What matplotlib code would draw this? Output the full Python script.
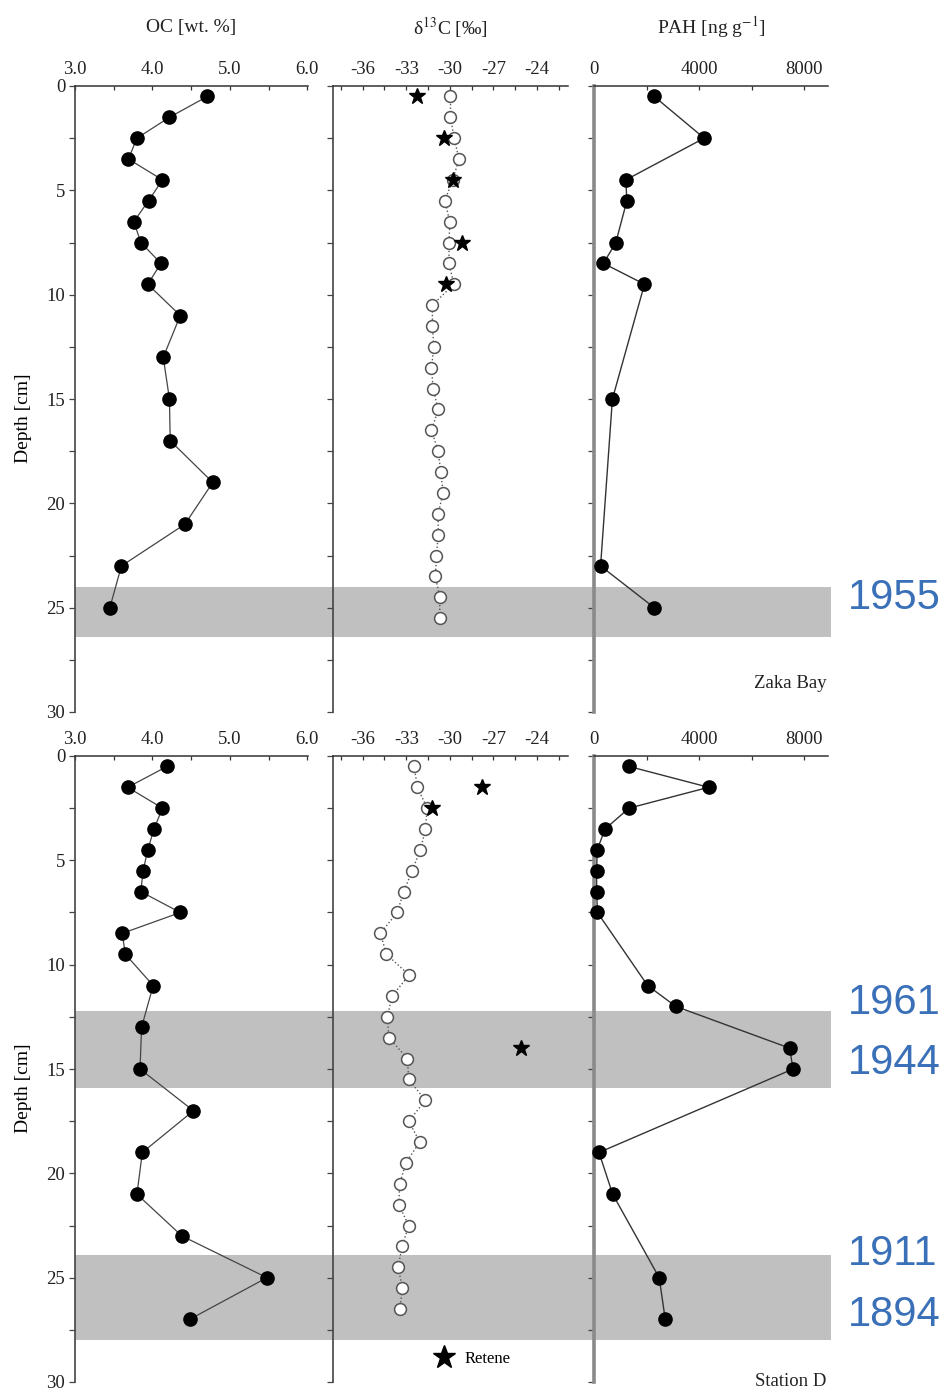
import matplotlib
matplotlib.use("Agg")
import matplotlib.pyplot as plt
from matplotlib.lines import Line2D
from matplotlib.ticker import MultipleLocator, FixedLocator

plt.rcParams['font.family'] = ['Liberation Serif', 'DejaVu Serif']
plt.rcParams['mathtext.fontset'] = 'stix'

# ---------------- data ----------------
zaka_oc_depth = [0.5, 1.5, 2.5, 3.5, 4.5, 5.5, 6.5, 7.5, 8.5, 9.5, 11, 13, 15, 17, 19, 21, 23, 25]
zaka_oc = [4.71, 4.22, 3.80, 3.69, 4.13, 3.95, 3.76, 3.85, 4.11, 3.94, 4.36, 4.14, 4.22, 4.23, 4.78, 4.42, 3.60, 3.45]

zaka_d13c_depth = [0.5, 1.5, 2.5, 3.5, 4.5, 5.5, 6.5, 7.5, 8.5, 9.5, 10.5, 11.5, 12.5, 13.5, 14.5,
                   15.5, 16.5, 17.5, 18.5, 19.5, 20.5, 21.5, 22.5, 23.5, 24.5, 25.5]
zaka_d13c = [-29.95, -29.95, -29.7, -29.36, -29.8, -30.34, -30.0, -30.05, -30.05, -29.72,
             -31.2, -31.2, -31.1, -31.26, -31.15, -30.8, -31.26, -30.8, -30.62, -30.46,
             -30.8, -30.8, -30.92, -30.99, -30.69, -30.69]
zaka_retene_depth = [0.5, 2.5, 4.5, 7.5, 9.5]
zaka_retene = [-32.23, -30.4, -29.77, -29.15, -30.23]

zaka_pah_depth = [0.5, 2.5, 4.5, 5.5, 7.5, 8.5, 9.5, 15, 23, 25]
zaka_pah = [2290, 4190, 1210, 1250, 830, 360, 1920, 700, 250, 2290]

stD_oc_depth = [0.5, 1.5, 2.5, 3.5, 4.5, 5.5, 6.5, 7.5, 8.5, 9.5, 11, 13, 15, 17, 19, 21, 23, 25, 27]
stD_oc = [4.19, 3.68, 4.13, 4.02, 3.94, 3.88, 3.85, 4.36, 3.61, 3.65, 4.01, 3.86, 3.84, 4.53, 3.87, 3.80, 4.38, 5.48, 4.48]

stD_d13c_depth = [0.5, 1.5, 2.5, 3.5, 4.5, 5.5, 6.5, 7.5, 8.5, 9.5, 10.5, 11.5, 12.5, 13.5, 14.5,
                  15.5, 16.5, 17.5, 18.5, 19.5, 20.5, 21.5, 22.5, 23.5, 24.5, 25.5, 26.5]
stD_d13c = [-32.46, -32.23, -31.56, -31.68, -32.02, -32.6, -33.17, -33.63, -34.78, -34.37,
            -32.8, -33.98, -34.3, -34.2, -32.92, -32.83, -31.68, -32.83, -32.07, -33.03,
            -33.45, -33.52, -32.83, -33.29, -33.56, -33.26, -33.45]
stD_retene_depth = [1.5, 2.5, 14]
stD_retene = [-27.77, -31.22, -25.12]

stD_pah_depth = [0.5, 1.5, 2.5, 3.5, 4.5, 5.5, 6.5, 7.5, 11, 12, 14, 15, 19, 21, 25, 27]
stD_pah = [1330, 4360, 1330, 420, 120, 100, 100, 130, 2040, 3110, 7440, 7570, 190, 710, 2480, 2710]

zaka_bands = [(24.0, 26.4)]
stD_bands = [(12.2, 15.9), (23.9, 28.0)]

year_labels = ["1955", "1961", "1944", "1911", "1894"]
year_label_y = [598, 1003, 1063, 1254, 1315]

col_titles = ["OC [wt. %]", r"δ$^{13}$C [‰]", r"PAH [ng g$^{\mathrm{-1}}$]"]
oc_ticks = [3.0, 4.0, 5.0, 6.0]
d13c_ticks = [-36, -33, -30, -27, -24]
pah_ticks = [0, 4000, 8000]

# ---------------- layout ----------------
W, H = 945, 1394
fig = plt.figure(figsize=(W / 100, H / 100), dpi=100)

def fx(px):
    return px / W

def fy(py):
    return 1 - py / H

panel_x = [(75, 308), (333, 568), (594, 828)]
row_y = [(86, 712), (756, 1382)]
band_color = '#c0c0c0'
FS = 13.5

def make_row(r, oc_d, oc, dc_d, dc, ret_d, ret, pah_d, pah, bands, station, title=False):
    top, bot = row_y[r]
    # background axis for bands spanning the whole row
    bg = fig.add_axes([fx(75), fy(bot), fx(831 - 75), (bot - top) / H], zorder=0)
    bg.set_ylim(30, 0)
    bg.set_xlim(0, 1)
    for b0, b1 in bands:
        bg.axhspan(b0, b1, color=band_color, lw=0)
    bg.axis('off')

    axes = []
    for i, (x0, x1) in enumerate(panel_x):
        ax = fig.add_axes([fx(x0), fy(bot), fx(x1 - x0), (bot - top) / H], zorder=2)
        ax.set_facecolor('none')
        ax.set_ylim(30, 0)
        for s in ['right', 'bottom']:
            ax.spines[s].set_visible(False)
        ax.spines['top'].set_color('#333333')
        ax.spines['top'].set_linewidth(1.1)
        ax.spines['left'].set_color('#444444')
        ax.spines['left'].set_linewidth(1.2)
        ax.xaxis.tick_top()
        ax.xaxis.set_label_position('top')
        ax.tick_params(axis='x', which='both', direction='in', length=3, width=0.9,
                       colors='#333333', labelsize=FS, pad=6, labelcolor='#222222')
        ax.tick_params(axis='y', which='both', direction='out', length=4, width=0.9,
                       colors='#444444', labelsize=FS, pad=3, labelcolor='#222222')
        ax.yaxis.set_major_locator(MultipleLocator(5))
        ax.yaxis.set_minor_locator(MultipleLocator(2.5))
        if i > 0:
            ax.tick_params(axis='y', which='both', labelleft=False)
        axes.append(ax)

    a1, a2, a3 = axes
    # OC
    a1.set_xlim(3.0, 6.01)
    a1.xaxis.set_major_locator(FixedLocator(oc_ticks))
    a1.xaxis.set_minor_locator(MultipleLocator(0.5))
    a1.set_xticklabels([f"{t:.1f}" for t in oc_ticks])
    a1.plot(oc, oc_d, '-', color='#444444', lw=0.9, marker='o', ms=9.5,
            mfc='black', mec='black', zorder=3, clip_on=False)
    a1.set_ylabel("Depth [cm]", fontsize=FS + 0.5)
    a1.yaxis.set_label_coords(-0.185, 0.47)

    # d13C
    a2.set_xlim(-38.05, -21.85)
    a2.xaxis.set_major_locator(FixedLocator(d13c_ticks))
    a2.xaxis.set_minor_locator(FixedLocator([-37.5, -34.5, -31.5, -28.5, -25.5, -22.5]))
    a2.set_xticklabels([str(t) for t in d13c_ticks])
    a2.plot(dc, dc_d, ':', color='#555555', lw=1.0, marker='o', ms=8.5,
            mfc='white', mec='#555555', mew=1.1, zorder=3)
    a2.plot(ret, ret_d, ls='none', marker='*', ms=12, color='black', zorder=4)

    # PAH
    a3.set_xlim(0, 8900)
    a3.xaxis.set_major_locator(FixedLocator(pah_ticks))
    a3.xaxis.set_minor_locator(FixedLocator([2000, 6000]))
    a3.set_xticklabels([str(t) for t in pah_ticks])
    a3.spines['left'].set_color('#8a8a8a')
    a3.spines['left'].set_linewidth(2.6)
    a3.plot(pah, pah_d, '-', color='#333333', lw=1.0, marker='o', ms=9.5,
            mfc='black', mec='black', zorder=3, clip_on=False)
    a3.text(0.995, 0.0 if r == 1 else 0.046, station, transform=a3.transAxes,
            ha='right', va='center', fontsize=FS, color='#222222')

    if title:
        for ax, t in zip(axes, col_titles):
            ax.text(0.5, 1.094, t, transform=ax.transAxes, ha='center', va='center',
                    fontsize=FS + 0.5, color='#222222')
    return axes

make_row(0, zaka_oc_depth, zaka_oc, zaka_d13c_depth, zaka_d13c, zaka_retene_depth, zaka_retene,
         zaka_pah_depth, zaka_pah, zaka_bands, "Zaka Bay", title=True)
axes_b = make_row(1, stD_oc_depth, stD_oc, stD_d13c_depth, stD_d13c, stD_retene_depth, stD_retene,
                  stD_pah_depth, stD_pah, stD_bands, "Station D")

# Retene legend
h = Line2D([], [], ls='none', marker='*', ms=17, color='black')
axes_b[1].legend([h], ["Retene"], loc='center left', bbox_to_anchor=(0.43, 0.037),
                 frameon=False, fontsize=12, handlelength=1.2, handletextpad=0.6,
                 borderpad=0, borderaxespad=0)

# blue year labels
for lab, y in zip(year_labels, year_label_y):
    fig.text(fx(848), fy(y), lab, ha='left', va='center', fontsize=30,
             family=['Liberation Sans', 'DejaVu Sans'], color='#3a70b8')

fig.savefig("out.png", dpi=100)
